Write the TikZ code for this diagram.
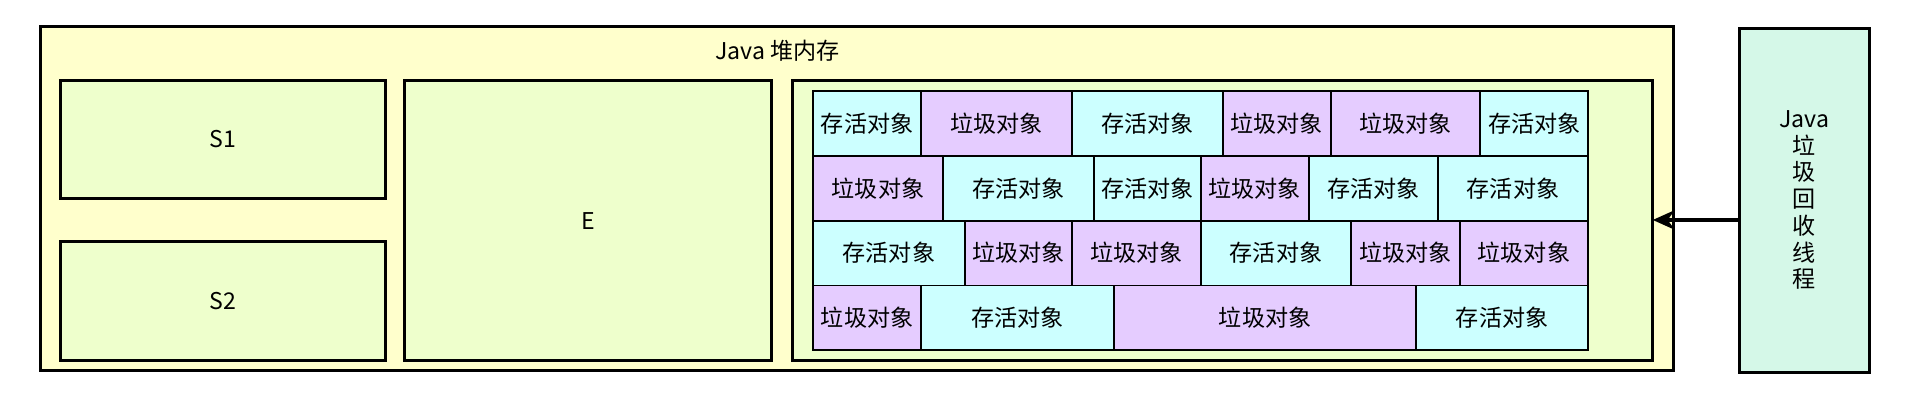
\documentclass[tikz,border=0pt]{standalone}
\usepackage{fontspec}
\setmainfont{Liberation Sans}
\newfontfamily\cjk{Noto Sans CJK SC}
\usetikzlibrary{arrows.meta}
\usetikzlibrary{positioning}

\definecolor{heapfill}{HTML}{FFFFCC}
\definecolor{genfill}{HTML}{EEFFCC}
\definecolor{livefill}{HTML}{CCFFFF}
\definecolor{deadfill}{HTML}{E5CCFF}
\definecolor{gcfill}{HTML}{D5F8E8}

\tikzset{
  region/.style={draw, line width=2.4pt, inner sep=0pt},
  live/.style={region, line width=1.6pt, fill=livefill},
  dead/.style={region, line width=1.6pt, fill=deadfill},
  lbl/.style={font=\fontsize{19}{22}\selectfont\cjk}
}
\def\livekey{live}

\begin{document}
\begin{tikzpicture}[x=1pt, y=-1pt]
        \useasboundingbox (0,0) rectangle (1570,329);
        % heap and its parts
        \draw[region, fill=heapfill] (33,22) rectangle (1377,305);
        \node[lbl] (heap) at (640,42) {Java 堆内存};
        \draw[region, fill=genfill] (50,66) rectangle (317,163) node[midway, lbl] (s1) {S1};
        \draw[region, fill=genfill] (50,199) rectangle (317,297) node[midway, lbl] (s2) {S2};
        \draw[region, fill=genfill] (333,66) rectangle (635,297) node[midway, lbl] (e) {E};
        \draw[region, fill=genfill] (652,66) rectangle (1360,297);
        \coordinate (old) at (1360,181);

        % object cells: left/right/kind
        \foreach \row/\cells in {
            0/{669/758/live,758/882/dead,882/1006/live,1006/1095/dead,1095/1218/dead,1218/1307/live},
            1/{669/776/dead,776/900/live,900/988/live,988/1077/dead,1077/1183/live,1183/1307/live},
            2/{669/794/live,794/882/dead,882/988/dead,988/1112/live,1112/1201/dead,1201/1307/dead},
            3/{669/758/dead,758/917/live,917/1165/dead,1165/1307/live}}
        {
            \foreach \xa/\xb/\kind in \cells {
                \pgfmathsetmacro{\ya}{75+53.3*\row}
                \pgfmathsetmacro{\yb}{\ya+53.3}
                \ifx\kind\livekey \def\txt{存活对象}\else\def\txt{垃圾对象}\fi
                \draw[\kind] (\xa,\ya) rectangle (\xb,\yb) node[midway, lbl] {\txt};
            }
        }

        % collector thread
        \node[region, fill=gcfill, minimum width=107pt, minimum height=283pt, anchor=north west,
              lbl, align=center] (gc) at (1430,22) {Java\\垃\\圾\\回\\收\\线\\程};
        \draw[-{Stealth[length=18pt, width=16pt]}, line width=3pt] (gc.west |- old) -- (old);
\end{tikzpicture}
\end{document}
